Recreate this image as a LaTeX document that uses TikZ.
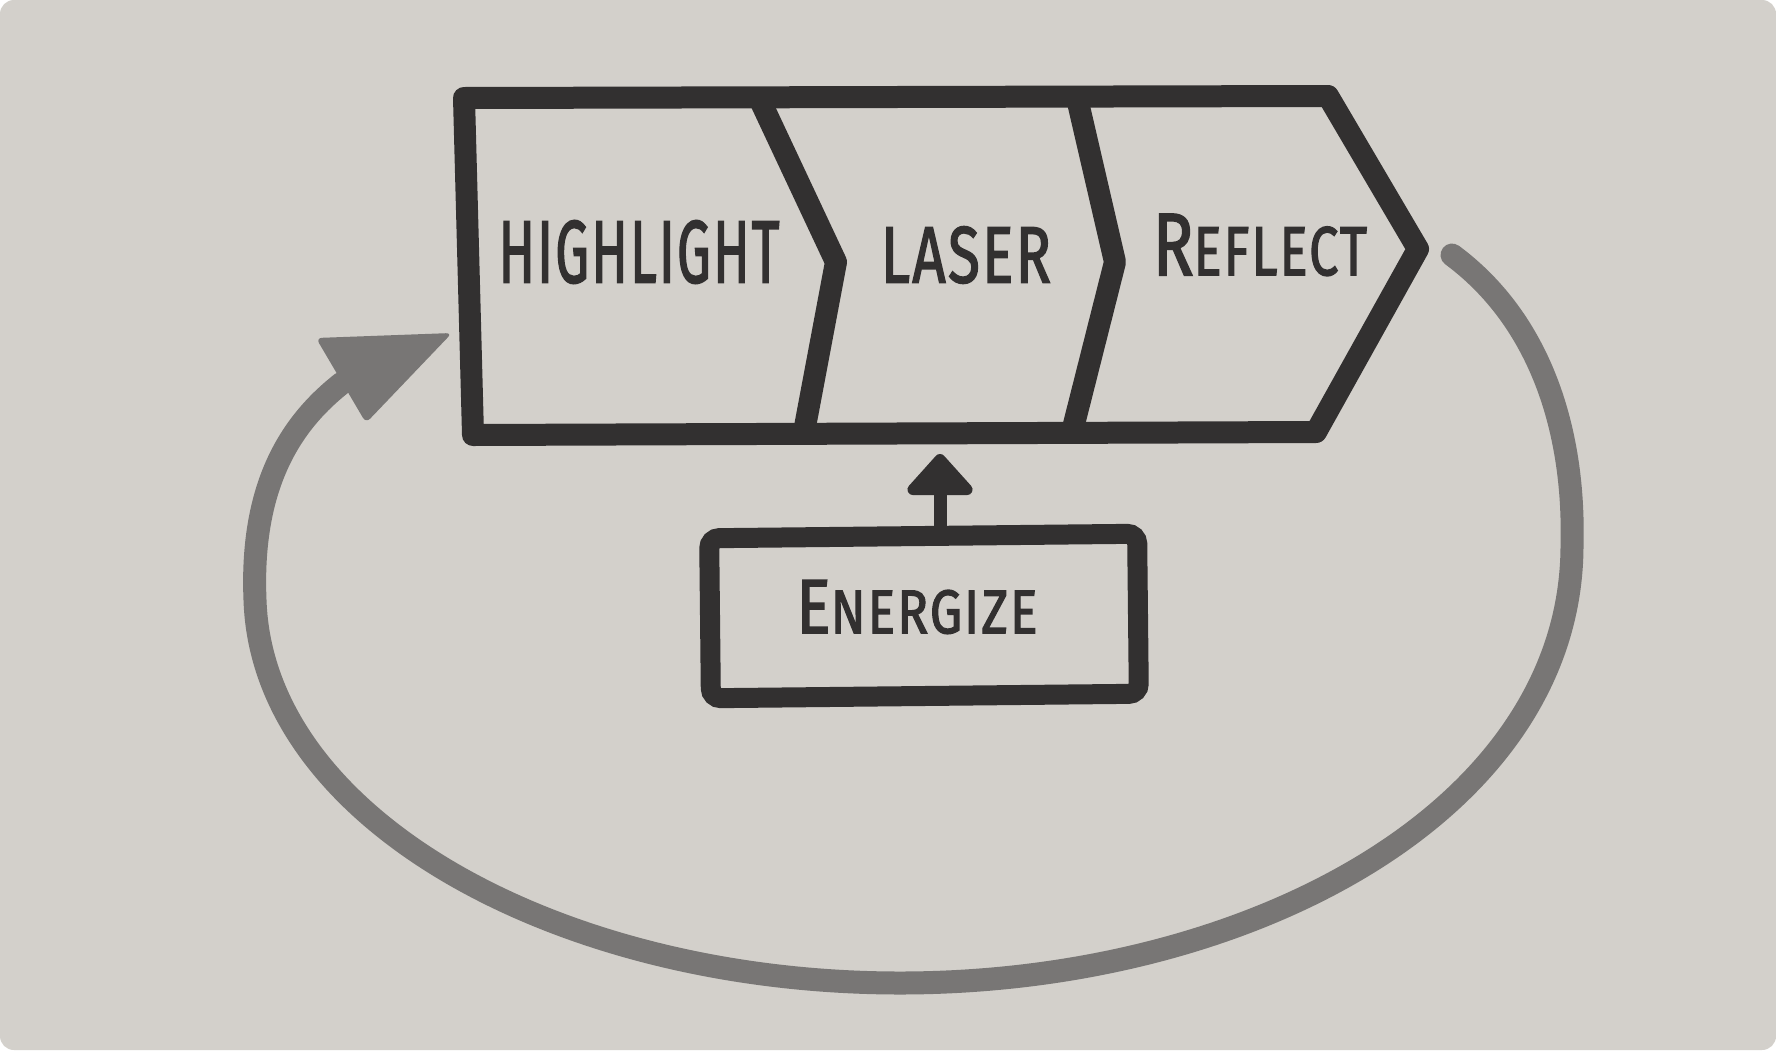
\documentclass[tikz,border=0pt]{standalone}
\usepackage{fontspec}
\setmainfont{Fira Sans}
\newfontfamily\handfont{Fira Sans}[FakeBold=2.2, LetterSpace=4]
\usetikzlibrary{arrows.meta}
\definecolor{paper}{RGB}{211,208,203}
\definecolor{ink}{RGB}{50,48,48}
\definecolor{loopgray}{RGB}{120,118,117}
\newcommand{\fitword}[3]{\resizebox{#1}{#2}{\handfont #3}}
\begin{document}
\begin{tikzpicture}[x=0.5pt,y=-0.5pt,
  chev/.style={draw=ink, line width=11pt, line join=round, line cap=round},
  lbl/.style={inner sep=0pt, outer sep=0pt, text=ink, anchor=center},
  ebox/.style={draw=ink, line width=10pt, rounded corners=5pt, minimum width=214pt, minimum height=80pt, inner sep=0pt},
  uparrow/.style={draw=ink, fill=ink, line width=6.5pt, -{Triangle[width=38pt,length=22pt,round]}},
  loopline/.style={draw=loopgray, line width=11.5pt, line cap=round, line join=round}]
\fill[white] (0,0) rectangle (1776,1050);
\fill[paper, rounded corners=7pt] (0,0) rectangle (1776,1050);
\useasboundingbox (0,0) rectangle (1776,1050);

% chevron strip
\draw[chev] (464,98) -- (1328,96) -- (1418,249) -- (1316,432) -- (473,435) -- cycle;
\draw[chev] (759,98) -- (836,262) -- (804,432);
\draw[chev] (1077,98) -- (1115,262) -- (1072,432);

\node[lbl] (highlight) at (639,252) {\fitword{140.5pt}{31pt}{HIGHLIGHT}};
\node[lbl] (laser) at (966,255) {\fitword{85pt}{28pt}{LASER}};
\node[lbl] (reflect) at (1260,245) {\fitword{107pt}{30.5pt}{R\scalebox{0.78}{EFLECT}}};

% energize
\node[ebox, rotate=0.6] (energize) at (924,616) {};
\node[lbl] (energizetext) at (917,607) {\fitword{120.5pt}{26.5pt}{E\scalebox{0.8}{NERGIZE}}};
\coordinate (etip) at (940,454);
\draw[uparrow] (energize.north -| etip) -- (etip);

% loop back
\coordinate (lstart) at (1452,255);
\coordinate (lright) at (1572,545);
\coordinate (lbottom) at (900,983);
\coordinate (lleft) at (255,600);
\coordinate (lend) at (342,383);
\draw[loopline] (lstart) .. controls (1540,320) and (1575,430) .. (lright)
  .. controls (1572,810) and (1250,983) .. (lbottom)
  .. controls (560,983) and (262,820) .. (lleft)
  .. controls (250,480) and (295,420) .. (lend);
\fill[loopgray, rounded corners=3pt] (316,338) -- (452,333) -- (366,423) -- cycle;
\end{tikzpicture}
\end{document}
